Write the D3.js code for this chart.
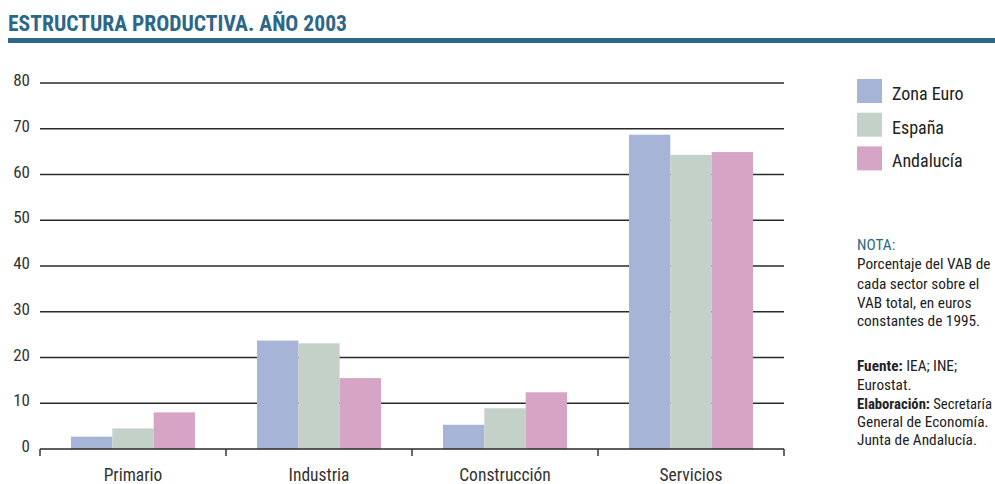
<!DOCTYPE html>
<html>
<head>
<meta charset="utf-8">
<script src="https://cdn.jsdelivr.net/npm/d3@7"></script>
<style>
  html, body { margin: 0; padding: 0; background: #fff; }
  svg { display: block; }
  text { font-family: "Liberation Sans Narrow", "Roboto Condensed", Roboto, "Liberation Sans", sans-serif; }
</style>
</head>
<body>
<svg id="chart" width="995" height="484"></svg>
<script>
// Sector shares of gross value added, 2003
const categories = ["Primario", "Industria", "Construcción", "Servicios"];
const seriesNames = ["Zona Euro", "España", "Andalucía"];
const zonaEuro  = [2.7, 23.7, 5.3, 68.7];
const espana    = [4.5, 23.1, 8.9, 64.3];
const andalucia = [8.0, 15.5, 12.4, 64.9];
const yTicks = [0, 10, 20, 30, 40, 50, 60, 70, 80];
const colors = ["#a5b4d7", "#c3d1c9", "#d6a4c5"];

const series = [zonaEuro, espana, andalucia];
const svg = d3.select("#chart");
const W = 995, H = 484;
const plot = { left: 40, right: 784, top: 83, bottom: 449 };

// Title and rule
svg.append("text")
  .attr("x", 8).attr("y", 31)
  .attr("font-size", 21.6).attr("font-weight", "bold")
  .attr("fill", "#2b6787")
  .text("ESTRUCTURA PRODUCTIVA. AÑO 2003");
svg.append("rect")
  .attr("x", 8).attr("y", 38).attr("width", W - 8).attr("height", 5)
  .attr("fill", "#2b6787");

const x0 = d3.scaleBand().domain(categories)
  .range([plot.left, plot.right]).paddingInner(1 / 3).paddingOuter(1 / 6);
const x1 = d3.scaleBand().domain(seriesNames).range([0, x0.bandwidth()]);
const y = d3.scaleLinear().domain([0, 80]).range([plot.bottom, plot.top]);

// Horizontal gridlines
svg.append("g").selectAll("line").data(yTicks.filter(t => t > 0)).join("line")
  .attr("x1", plot.left).attr("x2", plot.right)
  .attr("y1", d => y(d)).attr("y2", d => y(d))
  .attr("stroke", "#2a2a2a").attr("stroke-width", 1.4);

// Y labels
svg.append("g").selectAll("text").data(yTicks).join("text")
  .attr("x", 30).attr("y", d => y(d) + 3)
  .attr("text-anchor", "end").attr("font-size", 17).attr("fill", "#333")
  .text(d => d);

// Bars
const groups = svg.append("g").selectAll("g").data(categories).join("g")
  .attr("transform", d => `translate(${x0(d)},0)`);
groups.selectAll("rect")
  .data((c, i) => seriesNames.map((s, j) => ({ s, v: series[j][i], j })))
  .join("rect")
  .attr("x", d => x1(d.s)).attr("width", x1.bandwidth())
  .attr("y", d => y(d.v)).attr("height", d => y(0) - y(d.v))
  .attr("fill", d => colors[d.j]);

// Baseline axis with boundary ticks
const step = x0.step();
const boundaries = d3.range(categories.length + 1).map(i => plot.left + i * step);
svg.append("line")
  .attr("x1", plot.left).attr("x2", plot.right)
  .attr("y1", y(0)).attr("y2", y(0))
  .attr("stroke", "#2a2a2a").attr("stroke-width", 1.4);
svg.append("g").selectAll("line").data(boundaries).join("line")
  .attr("x1", d => d).attr("x2", d => d)
  .attr("y1", y(0)).attr("y2", y(0) + 7)
  .attr("stroke", "#2a2a2a").attr("stroke-width", 1.4);

// Category labels
svg.append("g").selectAll("text").data(categories).join("text")
  .attr("x", d => x0(d) + x0.bandwidth() / 2).attr("y", 481)
  .attr("text-anchor", "middle").attr("font-size", 17.5).attr("fill", "#333")
  .text(d => d);

// Legend
const legend = svg.append("g").selectAll("g").data(seriesNames).join("g")
  .attr("transform", (d, i) => `translate(857,${79 + i * 33.7})`);
legend.append("rect").attr("width", 25).attr("height", 24)
  .attr("fill", (d, i) => colors[i]);
legend.append("text").attr("x", 35).attr("y", 21)
  .attr("font-size", 18).attr("fill", "#222").text(d => d);

// Note block (each line kept within the right edge)
const noteX = 857, noteMax = W - noteX - 3;
const lines = [
  [{ t: "NOTA:", c: "#2b6787" }, 250],
  [{ t: "Porcentaje del VAB de" }, 269],
  [{ t: "cada sector sobre el" }, 289],
  [{ t: "VAB total, en euros" }, 308],
  [{ t: "constantes de 1995." }, 326],
  [{ t: "Fuente:", b: true, rest: " IEA; INE;" }, 371],
  [{ t: "Eurostat." }, 390],
  [{ t: "Elaboración:", b: true, rest: " Secretaría" }, 409],
  [{ t: "General de Economía." }, 427],
  [{ t: "Junta de Andalucía." }, 445]
];
lines.forEach(([seg, yy]) => {
  const t = svg.append("text").attr("x", noteX).attr("y", yy)
    .attr("font-size", 15.3).attr("fill", seg.c || "#222");
  t.append("tspan").attr("font-weight", seg.b ? "bold" : null).text(seg.t);
  if (seg.rest) t.append("tspan").text(seg.rest);
  if (t.node().getComputedTextLength() > noteMax) {
    t.attr("textLength", noteMax).attr("lengthAdjust", "spacingAndGlyphs");
  }
});
</script>
</body>
</html>
